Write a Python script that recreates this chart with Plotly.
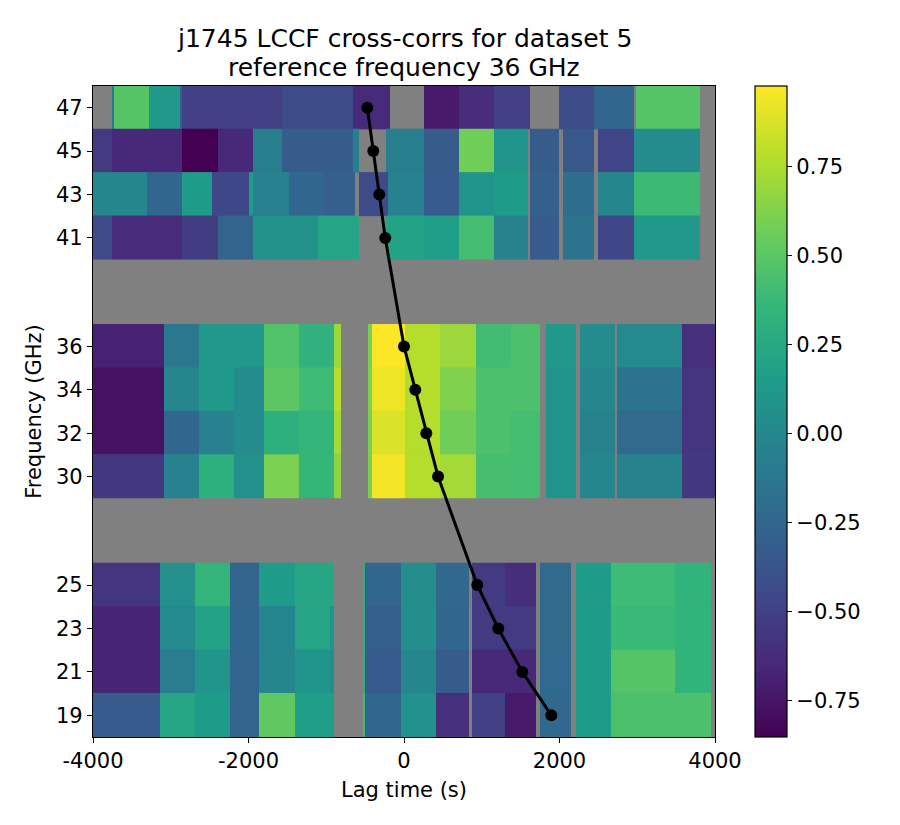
import plotly.graph_objects as go

# ---------------- data ----------------
freqs = [47, 45, 43, 41, 36, 34, 32, 30, 25, 23, 21, 19]

# lag-bin edges (s) per row
edges_47 = [-4000, -3752, -3730, -3280, -2881, -2859, -1573, -652, -180, 257, 707, 1158, 1621, 1994, 2444, 2958, 2984, 3807, 4000]
edges_45 = [-4000, -3752, -2859, -2396, -1938, -1573, -652, -583, -232, 257, 707, 1158, 1591, 1621, 1994, 2041, 2444, 2495, 2958, 3807, 4000]
edges_43 = [-4000, -3309, -2859, -2470, -1994, -1938, -1479, -1029, -630, -583, -210, 257, 707, 1158, 1591, 1621, 1994, 2041, 2444, 2495, 2958, 3807, 4000]
edges_41 = [-4000, -3752, -2859, -2396, -1938, -1110, -583, -232, 257, 707, 1158, 1591, 1621, 1994, 2041, 2444, 2495, 2958, 3807, 4000]
edges_mid = [-4000, -3087, -2637, -2187, -1801, -1351, -900, -810, -459, -415, 13, 463, 926, 1376, 1749, 1826, 2212, 2264, 2714, 2740, 3576, 4000]
edges_low = [-4000, -3138, -2688, -2238, -1865, -1402, -952, -900, -523, -502, -39, 412, 836, 875, 1299, 1698, 1749, 2148, 2212, 2662, 3486, 3949, 4000]

# cross-correlation values per row (None = no data)
corr_47 = [None, -0.1, 0.48, 0.12, -0.3, -0.5, -0.43, -0.63, None, -0.72, -0.62, -0.5, None, -0.43, -0.25, None, 0.48, None]
corr_45 = [-0.54, -0.65, -0.85, -0.65, -0.06, -0.32, -0.06, None, -0.06, -0.32, 0.57, 0.1, None, -0.32, None, -0.35, None, -0.47, 0.03, None]
corr_43 = [-0.01, -0.25, 0.15, -0.45, 0.15, -0.05, -0.25, -0.3, None, -0.43, -0.05, -0.33, 0.1, 0.15, None, -0.3, None, -0.2, None, 0.0, 0.39, None]
corr_41 = [-0.43, -0.62, -0.52, -0.27, 0.08, 0.22, None, 0.2, 0.17, 0.42, -0.03, None, -0.33, None, -0.15, None, -0.46, 0.13, None]
corr_36 = [-0.68, -0.12, 0.12, 0.12, 0.46, 0.32, 0.7, None, 0.6, 0.97, 0.77, 0.7, 0.41, 0.45, None, 0.12, None, 0.03, None, 0.02, -0.6]
corr_34 = [-0.76, 0.0, 0.12, 0.03, 0.5, 0.4, 0.78, None, 0.6, 0.93, 0.77, 0.62, 0.45, 0.45, None, 0.1, None, -0.01, None, -0.15, -0.57]
corr_32 = [-0.76, -0.25, -0.05, 0.03, 0.3, 0.35, 0.72, None, 0.6, 0.88, 0.77, 0.57, 0.45, 0.42, None, 0.1, None, -0.03, None, -0.22, -0.57]
corr_30 = [-0.55, -0.04, 0.3, 0.06, 0.6, 0.36, 0.65, None, 0.6, 0.95, 0.77, 0.72, 0.43, 0.42, None, 0.1, None, -0.01, None, -0.03, -0.55]
corr_25 = [-0.57, 0.06, 0.35, -0.27, 0.15, 0.23, 0.23, None, 0.3, -0.25, 0.05, -0.24, None, -0.53, -0.61, None, -0.22, None, 0.15, 0.4, 0.33, None]
corr_23 = [-0.67, 0.02, 0.2, -0.25, -0.02, 0.22, 0.1, None, 0.3, -0.3, 0.05, -0.25, None, -0.53, -0.53, None, -0.22, None, 0.15, 0.38, 0.33, None]
corr_21 = [-0.67, -0.08, 0.1, -0.26, 0.0, 0.1, 0.05, None, 0.3, -0.33, 0.0, -0.32, None, -0.65, -0.65, None, -0.23, None, 0.15, 0.48, 0.33, None]
corr_19 = [-0.33, 0.23, 0.15, -0.27, 0.52, 0.17, 0.17, None, 0.4, -0.25, 0.07, -0.6, None, -0.5, -0.72, None, -0.24, None, 0.15, 0.45, 0.45, None]

row_edges = [edges_47, edges_45, edges_43, edges_41,
             edges_mid, edges_mid, edges_mid, edges_mid,
             edges_low, edges_low, edges_low, edges_low]
row_corr = [corr_47, corr_45, corr_43, corr_41,
            corr_36, corr_34, corr_32, corr_30,
            corr_25, corr_23, corr_21, corr_19]

# peak-lag track
peak_lag = [-472, -395, -318, -241, 0, 145, 287, 438, 943, 1213, 1522, 1895]
peak_freq = [47, 45, 43, 41, 36, 34, 32, 30, 25, 23, 21, 19]

x_ticks = [-4000, -2000, 0, 2000, 4000]
x_ticklabels = ["-4000", "-2000", "0", "2000", "4000"]
cbar_ticks = [-0.75, -0.5, -0.25, 0.0, 0.25, 0.5, 0.75]
zmin, zmax = -0.851, 0.975
title_lines = ["j1745 LCCF cross-corrs for dataset 5", "reference frequency 36 GHz"]

# ---------------- figure ----------------
FONT = "DejaVu Sans"
TICK = 21
fig = go.Figure()
for f, ed, vals in zip(freqs, row_edges, row_corr):
    fig.add_trace(go.Heatmap(
        x=ed, y=[f - 1, f + 1.03], z=[vals],
        coloraxis="coloraxis", hoverongaps=False, zsmooth=False,
    ))

fig.add_trace(go.Scatter(
    x=peak_lag, y=peak_freq, mode="lines+markers",
    line=dict(color="black", width=3),
    marker=dict(color="black", size=12),
    showlegend=False,
))

for line_text, ypos in zip(title_lines, [1.0730, 1.0284]):
    fig.add_annotation(
        text=line_text, xref="paper", yref="paper", x=0.5, y=ypos,
        xanchor="center", yanchor="middle", showarrow=False,
        font=dict(family=FONT, size=25, color="black"),
    )

fig.update_layout(
    width=900, height=825,
    margin=dict(l=85, r=193, t=78, b=96),
    paper_bgcolor="white",
    plot_bgcolor="#808080",
    font=dict(family=FONT, size=TICK, color="black"),
    showlegend=False,
    coloraxis=dict(
        colorscale="Viridis", cmin=zmin, cmax=zmax,
        colorbar=dict(
            thickness=32, lenmode="pixels", len=651,
            x=1.0643, xanchor="left", y=0.5, yanchor="middle",
            xpad=0, ypad=0,
            outlinewidth=1.2, outlinecolor="black",
            ticks="outside", ticklen=5, tickwidth=1.2, tickcolor="black",
            tickvals=cbar_ticks, tickformat=".2f",
            tickfont=dict(family=FONT, size=TICK, color="black"),
        ),
    ),
    xaxis=dict(
        range=[-4000, 4000], tickvals=x_ticks, ticktext=x_ticklabels,
        ticks="outside", ticklen=5, tickwidth=1.2, tickcolor="black",
        showline=True, mirror=True, linecolor="black", linewidth=1.2,
        showgrid=False, zeroline=False,
        title=dict(text="Lag time (s)", font=dict(family=FONT, size=TICK), standoff=10),
    ),
    yaxis=dict(
        range=[18, 48], tickvals=freqs, ticktext=[str(f) for f in freqs],
        ticks="outside", ticklen=5, tickwidth=1.2, tickcolor="black",
        showline=True, mirror=True, linecolor="black", linewidth=1.2,
        showgrid=False, zeroline=False,
        title=dict(text="Frequency (GHz)", font=dict(family=FONT, size=TICK), standoff=8),
    ),
)

fig.write_html("out.html")
